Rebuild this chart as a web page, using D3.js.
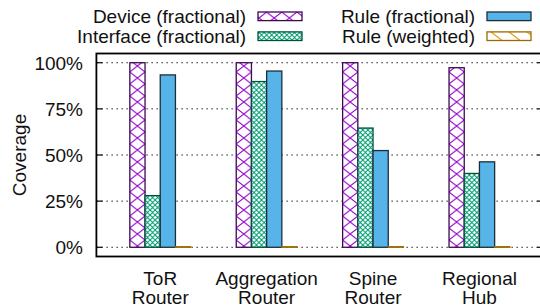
<!DOCTYPE html>
<html>
<head>
<meta charset="utf-8">
<script src="https://cdn.jsdelivr.net/npm/d3@7"></script>
<style>
  body { margin: 0; background: #fff; }
  svg text { font-family: "Liberation Sans", Arial, Helvetica, sans-serif; fill: #111; }
</style>
</head>
<body>
<div id="chart"></div>
<script>
// データ
const categories = ["ToR\nRouter", "Aggregation\nRouter", "Spine\nRouter", "Regional\nHub"];
const seriesNames = ["Device (fractional)", "Interface (fractional)", "Rule (fractional)", "Rule (weighted)"];
const deviceFrac = [1.0, 1.0, 1.0, 0.973];
const interfaceFrac = [0.28, 0.898, 0.646, 0.40];
const ruleFrac = [0.934, 0.955, 0.524, 0.463];
const ruleWeighted = [0.003, 0.003, 0.003, 0.003];
const yTicks = [0, 0.25, 0.5, 0.75, 1.0];

const series = [deviceFrac, interfaceFrac, ruleFrac, ruleWeighted];

const width = 540;
const height = 308;
const fontSize = 19;

const svg = d3.select("#chart").append("svg")
    .attr("width", width)
    .attr("height", height);

// 模様
const defs = svg.append("defs");
const barW = 106.4 / 7;

const pDev = defs.append("pattern").attr("id", "pat-dev")
    .attr("patternUnits", "userSpaceOnUse")
    .attr("x", 129.8).attr("y", 0)
    .attr("width", barW).attr("height", 12);
pDev.append("rect").attr("width", barW).attr("height", 12).attr("fill", "#fff");
pDev.append("path").attr("d", `M0,0L${barW},12M${barW},0L0,12`)
    .attr("stroke", "#9400d3").attr("stroke-width", 1).attr("fill", "none");

const pIf = defs.append("pattern").attr("id", "pat-if")
    .attr("patternUnits", "userSpaceOnUse")
    .attr("x", 129.8).attr("y", 0)
    .attr("width", barW / 3).attr("height", 5);
pIf.append("rect").attr("width", barW / 3).attr("height", 5).attr("fill", "#fff");
pIf.append("path").attr("d", `M0,0L${barW / 3},5M${barW / 3},0L0,5`)
    .attr("stroke", "#009e73").attr("stroke-width", 1).attr("fill", "none");

const pW = defs.append("pattern").attr("id", "pat-w")
    .attr("patternUnits", "userSpaceOnUse")
    .attr("x", 0).attr("y", 0)
    .attr("width", 18).attr("height", 14);
pW.append("rect").attr("width", 18).attr("height", 14).attr("fill", "#fff");
pW.append("path").attr("d", "M0,0L18,14")
    .attr("stroke", "#e69f00").attr("stroke-width", 1.2).attr("fill", "none");

const fills = ["url(#pat-dev)", "url(#pat-if)", "#56b4e9", "url(#pat-w)"];
const strokes = ["#3c0a50", "#00503b", "#1c2e3a", "#9a6a00"];

// スケール
const x = d3.scaleLinear().domain([-0.6, 3.6]).range([96.4, 96.4 + 4.2 * 106.4]);
const y = d3.scaleLinear().domain([-0.05, 1.05]).range([256.5, 53.5]);

const plotL = x(-0.6), plotR = x(3.6), plotT = y(1.05), plotB = y(-0.05);

// グリッド
svg.append("g").selectAll("line")
    .data(yTicks)
    .enter().append("line")
    .attr("x1", plotL).attr("x2", plotR)
    .attr("y1", d => y(d)).attr("y2", d => y(d))
    .attr("stroke", "#222").attr("stroke-width", 1)
    .attr("stroke-dasharray", "1.5,3.5");

// 目盛り
const tickG = svg.append("g");
yTicks.forEach(t => {
    tickG.append("line").attr("x1", plotL).attr("x2", plotL + 6)
        .attr("y1", y(t)).attr("y2", y(t)).attr("stroke", "#000").attr("stroke-width", 1.2);
    tickG.append("line").attr("x1", plotR - 6).attr("x2", plotR)
        .attr("y1", y(t)).attr("y2", y(t)).attr("stroke", "#000").attr("stroke-width", 1.2);
});

svg.append("g").selectAll("text")
    .data(yTicks)
    .enter().append("text")
    .attr("x", 83)
    .attr("y", d => y(d))
    .attr("dy", "0.36em")
    .attr("text-anchor", "end")
    .attr("font-size", fontSize)
    .text(d => d3.format(".0%")(d));

// 棒
series.forEach((vals, j) => {
    svg.append("g").selectAll("rect")
        .data(vals)
        .enter().append("rect")
        .attr("x", (d, i) => x(i - 2 / 7 + j / 7))
        .attr("width", x(1 / 7) - x(0))
        .attr("y", d => y(d))
        .attr("height", d => y(0) - y(d))
        .attr("fill", fills[j])
        .attr("stroke", strokes[j])
        .attr("stroke-width", 1.3);
});

// 枠
svg.append("rect")
    .attr("x", plotL).attr("y", plotT)
    .attr("width", plotR - plotL).attr("height", plotB - plotT)
    .attr("fill", "none").attr("stroke", "#000").attr("stroke-width", 1.8);

// カテゴリラベル
const catG = svg.append("g").selectAll("text")
    .data(categories)
    .enter().append("text")
    .attr("text-anchor", "middle")
    .attr("font-size", fontSize);
catG.each(function(d, i) {
    const lines = d.split("\n");
    lines.forEach((ln, k) => {
        d3.select(this).append("tspan")
            .attr("x", x(i))
            .attr("y", 284.7 + k * 19)
            .text(ln);
    });
});

// 軸タイトル
svg.append("text")
    .attr("transform", "translate(26,155) rotate(-90)")
    .attr("text-anchor", "middle")
    .attr("font-size", fontSize)
    .text("Coverage");

// 凡例
const legendCols = [258, 487];
const legendRows = [16.3, 36.2];
seriesNames.forEach((name, j) => {
    const cx = legendCols[Math.floor(j / 2)];
    const cy = legendRows[j % 2];
    svg.append("rect")
        .attr("x", cx).attr("y", cy - 4.3)
        .attr("width", 44).attr("height", 8.6)
        .attr("fill", fills[j])
        .attr("stroke", strokes[j])
        .attr("stroke-width", 1.3);
    svg.append("text")
        .attr("x", cx - 12).attr("y", cy)
        .attr("dy", "0.36em")
        .attr("text-anchor", "end")
        .attr("font-size", fontSize)
        .text(name);
});
</script>
</body>
</html>
